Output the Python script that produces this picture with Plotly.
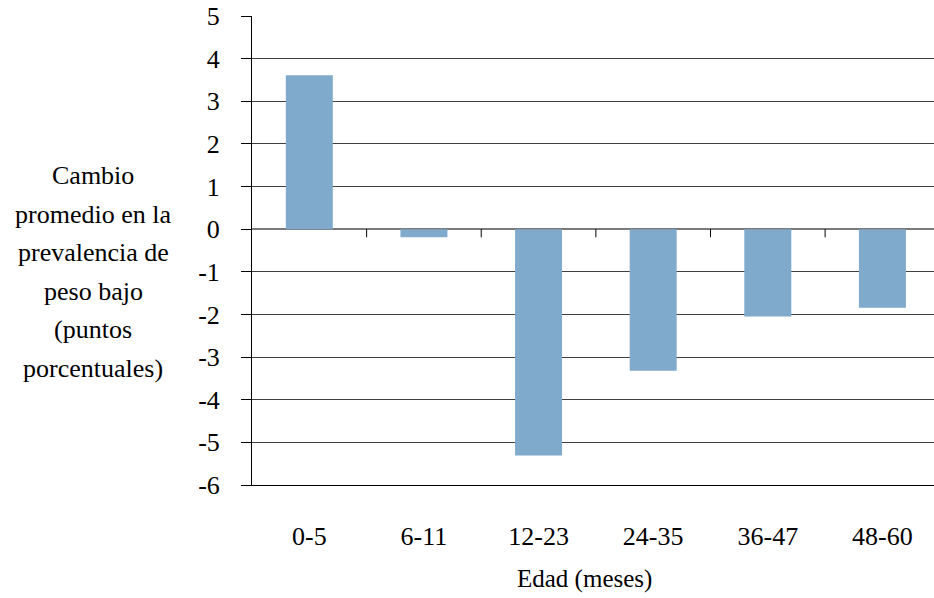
import plotly.graph_objects as go

categories = ["0-5", "6-11", "12-23", "24-35", "36-47", "48-60"]
values = [3.61, -0.19, -5.31, -3.32, -2.05, -1.84]
y_ticks = list(range(-6, 6))

y_title_lines = ["Cambio", "promedio en la", "prevalencia de", "peso bajo",
                 "(puntos", "porcentuales)"]
x_title = "Edad (meses)"

font_family = "'Liberation Serif', Tinos, 'Times New Roman', 'DejaVu Serif', serif"

fig = go.Figure()
fig.add_trace(go.Bar(
    x=categories, y=values,
    marker=dict(color="#7FAACB", line=dict(width=0)),
    width=0.41,
))

# tick marks at category boundaries on the zero line
shapes = []
for i in range(len(categories) - 1):
    shapes.append(dict(type="line", xref="x", yref="y",
                       x0=i + 0.5, x1=i + 0.5, y0=0, y1=-0.19,
                       line=dict(color="black", width=1)))

annotations = []
n = len(y_title_lines)
for k, line in enumerate(y_title_lines):
    annotations.append(dict(
        text=line, xref="paper", yref="paper",
        x=-0.233, y=0.454 - (k - (n - 1) / 2) * 0.0821,
        xanchor="center", yanchor="middle", showarrow=False,
        font=dict(size=26, family=font_family, color="black")))
annotations.append(dict(
    text=x_title, xref="paper", yref="paper", x=0.488, y=-0.2,
    xanchor="center", yanchor="middle", showarrow=False,
    font=dict(size=25, family=font_family, color="black")))

fig.update_layout(
    width=934, height=598,
    margin=dict(l=252, r=0, t=16, b=113),
    paper_bgcolor="white", plot_bgcolor="white",
    showlegend=False,
    font=dict(family=font_family, size=26, color="black"),
    xaxis=dict(
        type="category",
        range=[-0.5, 5.45],
        showgrid=False, zeroline=False,
        showline=True, linecolor="black", linewidth=1,
        ticks="outside", ticklen=28, tickcolor="rgba(0,0,0,0)",
        tickfont=dict(size=26, family=font_family),
    ),
    yaxis=dict(
        range=[-6, 5],
        tickvals=y_ticks,
        ticktext=[str(v) for v in y_ticks],
        showgrid=True, gridcolor="#404040", gridwidth=1,
        zeroline=True, zerolinecolor="#7a7a7a", zerolinewidth=2,
        showline=True, linecolor="black", linewidth=1,
        ticks="outside", ticklen=10, tickcolor="black",
        ticklabelstandoff=16,
        tickfont=dict(size=26, family=font_family),
    ),
    shapes=shapes,
    annotations=annotations,
)

fig.write_html("out.html")
